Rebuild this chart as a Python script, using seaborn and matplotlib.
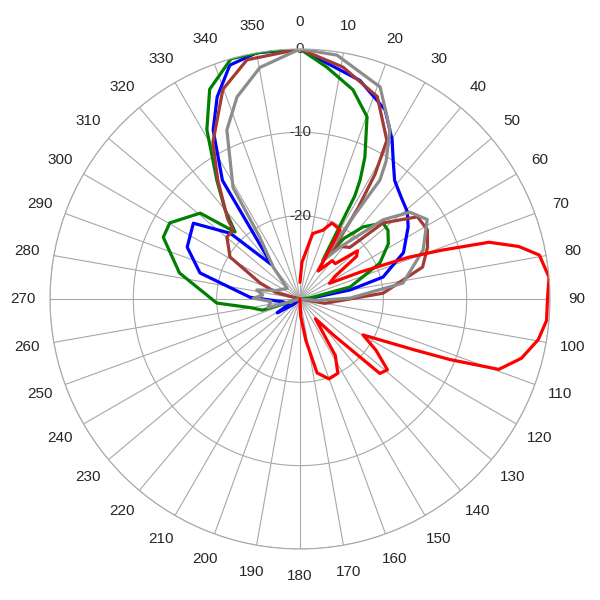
import numpy as np
import pandas as pd
import matplotlib
matplotlib.use("Agg")
import matplotlib.pyplot as plt
import seaborn as sns

# ── Pattern data (angle in degrees, level in dB) ────────────────────────────
blue_ang = [0, 15.3, 24.2, 30, 34, 38.6, 45, 50.9, 56.3, 65.9, 75.2, 79.8, 88, 100, 230, 238.7,
            245, 260, 272, 284.6, 294.7, 305.4, 313.3, 320.5, 326.8, 332.8, 337.7, 343.3, 350, 360]
blue_db = [0, -2.8, -5.1, -7.9, -10, -11.8, -12.8, -13.4, -14.4, -16.4, -19.7, -23.9, -29, -30, -29, -26.8,
           -28.5, -28, -24, -17.6, -15.1, -14.3, -18.5, -24.7, -13, -7.2, -3.8, -0.7, 0, 0]

green_ang = [0, 6.6, 14.2, 20.2, 24.6, 26.8, 28, 30.5, 36, 41.2, 47.5, 52, 58, 65.8, 76.5, 84, 95,
             240, 253.4, 260, 267.2, 282.2, 294.3, 300.3, 310.7, 315.9, 320, 325, 331.2, 336.7, 344, 351.6, 360]
green_db = [0, -2, -4.1, -6.7, -11.3, -14, -16, -24.6, -21, -18.5, -16.5, -16.6, -17.5, -19.5, -23.8, -28.8, -30,
            -30, -25.3, -24, -20, -15.2, -12, -11.9, -14.2, -18.8, -16, -12.6, -6.8, -2.6, 0, 0, 0]

brown_ang = [0, 10.5, 20.9, 28.7, 31, 32.5, 34, 38, 44, 47.5, 55, 61.5, 68, 75.4, 86, 100, 110,
             270, 285, 292, 301, 310.3, 315.8, 318, 325.4, 330.9, 339.8, 347.5, 360]
brown_db = [0, -1.7, -4, -8.3, -12.5, -17, -23, -22, -21.4, -16.5, -12.8, -12.6, -13.5, -14.8, -20, -27, -30,
            -30, -27, -24.8, -20.2, -18.5, -18.5, -17, -12.6, -8.5, -3.2, -0.6, 0]

gray_ang = [0, 8.6, 20.7, 28, 32, 33.9, 33, 31, 38, 46.4, 51.7, 58, 68.3, 81.2, 89, 95, 100,
            250, 255, 265, 271, 276, 281.8, 290, 310, 320, 327, 329, 336.6, 342.7, 350.2, 360]
gray_db = [0, -0.4, -2.8, -7, -10.5, -12.8, -18, -24.6, -22, -16.2, -13.2, -12, -14.1, -17.5, -24, -28, -30,
           -30, -26, -26.5, -24.4, -25.5, -24.7, -27, -28, -25, -21.1, -14.4, -7.9, -4.6, -1.8, 0]

red_ang = [0, 3, 11, 18.4, 22.8, 30, 33, 40, 45, 50, 53, 57, 62, 66, 69, 71, 73.3, 76.5, 79.6, 85, 90, 95,
           99.7, 105, 109.5, 112, 114, 119.7, 124, 129, 133, 137, 142, 148, 153, 160, 167, 172, 178, 190, 360]
red_db = [-28, -25.6, -22, -21.3, -20.1, -20.4, -26, -24, -24, -21, -21.5, -25, -26, -22, -16, -12, -6.3, -3, -0.8, 0, -0.3, -0.3,
          -1, -2.5, -4.7, -10.6, -15, -21.3, -19, -16.5, -16.9, -24, -27, -22, -20, -19.8, -20.9, -25, -28, -30, -30]

series = [("blue", blue_ang, blue_db), ("green", green_ang, green_db),
          ("brown", brown_ang, brown_db), ("gray", gray_ang, gray_db),
          ("red", red_ang, red_db)]
colors = {"blue": "#0000ff", "green": "#008000", "brown": "#a33a33",
          "gray": "#8c8c8c", "red": "#ff0000"}

sns.set_style("white")
plt.rcParams["font.family"] = ["Liberation Sans", "DejaVu Sans"]

fig = plt.figure(figsize=(6, 6), dpi=100)
ax = fig.add_axes([50 / 600, 51 / 600, 500 / 600, 500 / 600], projection="polar")
ax.set_theta_zero_location("N")
ax.set_theta_direction(-1)
ax.set_rlim(-30, 0)

for name, ang, db in series:
    d = pd.DataFrame({"theta": np.deg2rad(ang), "db": db})
    sns.lineplot(data=d, x="theta", y="db", ax=ax, sort=False, color=colors[name],
                 linewidth=2.3, estimator=None)

ax.set_xlabel(""); ax.set_ylabel("")
ax.set_xticks(np.deg2rad(np.arange(0, 360, 10)))
ax.set_xticklabels([str(a) for a in range(0, 360, 10)], fontsize=11)
ax.tick_params(axis="x", pad=9)
ax.set_yticks([-20, -10, 0])
ax.set_yticklabels(["-20", "-10", "0"], fontsize=11, color="#333333")
ax.set_rlabel_position(0)
for lbl in ax.get_yticklabels():
    lbl.set_horizontalalignment("center")
    lbl.set_verticalalignment("center")
ax.grid(True, color="#a8a8a8", linewidth=0.8)
ax.spines["polar"].set_color("#a8a8a8")
ax.spines["polar"].set_linewidth(0.8)

fig.savefig("out.png", dpi=100, facecolor="white")
